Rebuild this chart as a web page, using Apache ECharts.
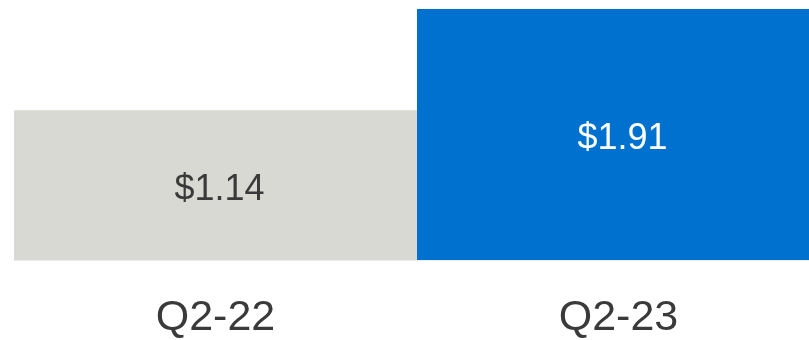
<!DOCTYPE html>
<html>
<head>
<meta charset="utf-8">
<script src="https://cdn.jsdelivr.net/npm/echarts@6/dist/echarts.min.js"></script>
<style>
  html, body { margin: 0; padding: 0; background: #ffffff; overflow: hidden; }
  #wrap { width: 809px; height: 340px; overflow: hidden; }
  /* the drawing surface is a little wider than the view, so the second bar runs off the right edge */
  #chart { width: 820px; height: 340px; }
</style>
</head>
<body>
<div id="wrap"><div id="chart"></div></div>
<script>
// Quarterly values (USD)
const quarters = ['Q2-22', 'Q2-23'];
const values = [1.14, 1.91];
const barColors = ['#d9d9d4', '#0071ce'];
const labelColors = ['#3a3a3a', '#ffffff'];

const chart = echarts.init(document.getElementById('chart'), null, { renderer: 'canvas' });

chart.setOption({
  animation: false,
  grid: { left: 14, right: 0, top: 9, bottom: 78.5, containLabel: false },
  xAxis: {
    type: 'category',
    data: quarters,
    axisTick: { show: false },
    axisLine: { show: true, lineStyle: { color: '#ececec', width: 1 } },
    axisLabel: {
      color: '#3a3a3a',
      fontFamily: 'Liberation Sans, Arial, sans-serif',
      fontSize: 43,
      margin: 37
    }
  },
  yAxis: {
    type: 'value',
    min: 0,
    max: 1.91,
    show: false,
    splitLine: { show: false }
  },
  series: [{
    type: 'bar',
    barCategoryGap: 0,
    data: values.map((v, i) => ({
      value: v,
      itemStyle: { color: barColors[i] },
      label: { color: labelColors[i] }
    })),
    label: {
      show: true,
      position: 'inside',
      offset: [4, 5],
      fontFamily: 'Liberation Sans, Arial, sans-serif',
      fontSize: 36,
      formatter: p => '$' + p.value.toFixed(2)
    }
  }]
});
</script>
</body>
</html>
